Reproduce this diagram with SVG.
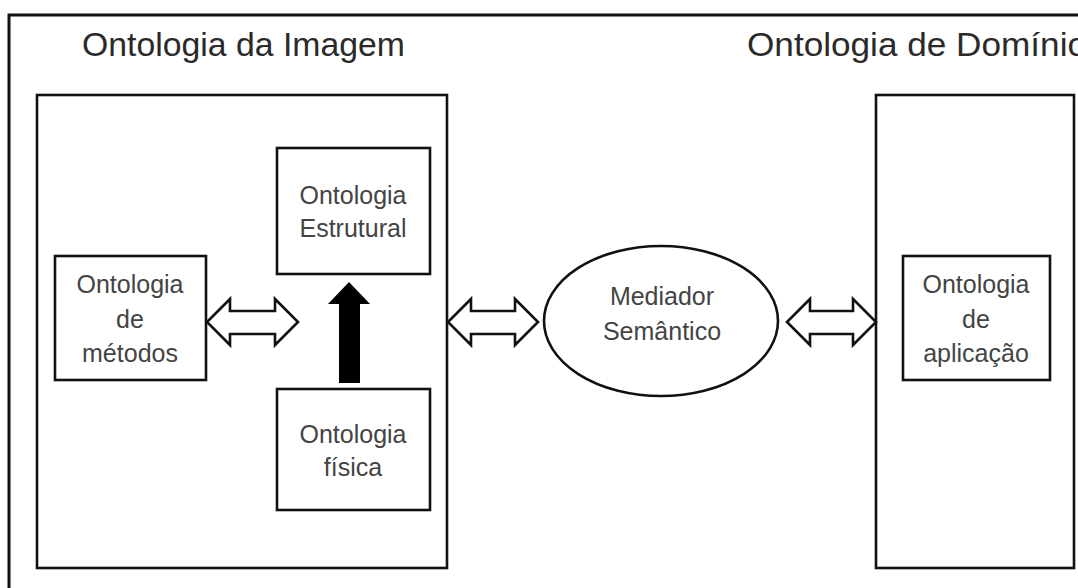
<svg xmlns="http://www.w3.org/2000/svg" width="1078" height="588" viewBox="0 0 1078 588">
<style>
.frame{fill:none;stroke:#111;stroke-width:3}
.box{fill:#fff;stroke:#111;stroke-width:2.6}
.title{font-family:"Liberation Sans",Arial,sans-serif;font-size:34px;fill:#2a2a2a}
.lbl{font-family:"Liberation Sans",Arial,sans-serif;font-size:25px;fill:#444;text-anchor:middle}
.harrow{fill:#fff;stroke:#111;stroke-width:2.6;stroke-linejoin:miter}
.barrow{fill:#000;stroke:none}
</style>
<rect width="1078" height="588" fill="#fff"/>
<g id="outer-frame">
<path class="frame" d="M9,588 L9,15 L1078,15"/>
</g>
<g id="ontologia-imagem">
<rect class="box" x="37" y="95" width="410" height="473"/>
<text class="title" x="82" y="56" textLength="323" lengthAdjust="spacingAndGlyphs">Ontologia da Imagem</text>
</g>
<g id="ontologia-dominio">
<rect class="box" x="876" y="95" width="198" height="473"/>
<text class="title" x="747" y="56" textLength="340" lengthAdjust="spacingAndGlyphs">Ontologia de Domínio</text>
</g>
<g id="ontologia-estrutural">
<rect class="box" x="277" y="148" width="153" height="126"/>
<text class="lbl" x="353" y="204">Ontologia</text>
<text class="lbl" x="353" y="237">Estrutural</text>
</g>
<g id="ontologia-fisica">
<rect class="box" x="277" y="389" width="153" height="121"/>
<text class="lbl" x="353" y="443">Ontologia</text>
<text class="lbl" x="353" y="476">física</text>
</g>
<g id="ontologia-metodos">
<rect class="box" x="55" y="256" width="151" height="124"/>
<text class="lbl" x="130" y="293">Ontologia</text>
<text class="lbl" x="130" y="328">de</text>
<text class="lbl" x="130" y="362">métodos</text>
</g>
<g id="mediador-semantico">
<ellipse class="box" cx="661" cy="321" rx="117" ry="75"/>
<text class="lbl" x="662" y="305">Mediador</text>
<text class="lbl" x="662" y="340">Semântico</text>
</g>
<g id="ontologia-aplicacao">
<rect class="box" x="903" y="256" width="147" height="124"/>
<text class="lbl" x="976" y="293">Ontologia</text>
<text class="lbl" x="976" y="328">de</text>
<text class="lbl" x="976" y="362">aplicação</text>
</g>
<g id="connectors">
<path class="harrow" d="M207,322 L230,299 L230,311 L275,311 L275,299 L298,322 L275,345 L275,334 L230,334 L230,345 Z"/>
<path class="harrow" d="M448,322 L471,299 L471,311 L515,311 L515,299 L538,322 L515,345 L515,334 L471,334 L471,345 Z"/>
<path class="harrow" d="M787,322 L810,299 L810,311 L853,311 L853,299 L876,322 L853,345 L853,334 L810,334 L810,345 Z"/>
<polygon class="barrow" points="349,282 370,304 360,304 360,383 339,383 339,304 328,304"/>
</g>
</svg>
